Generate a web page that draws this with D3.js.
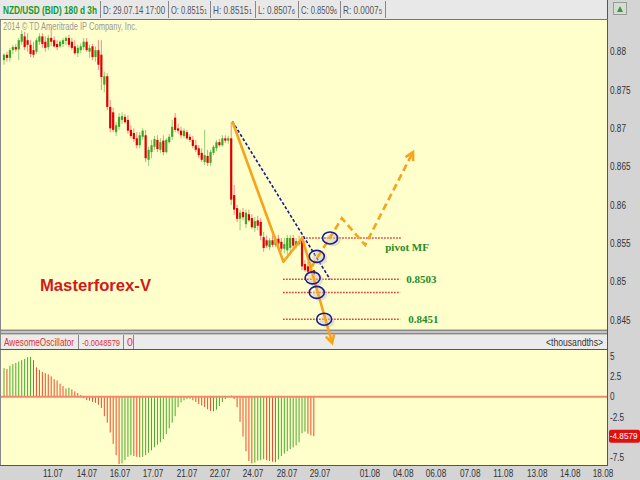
<!DOCTYPE html>
<html><head><meta charset="utf-8">
<script src="https://cdn.jsdelivr.net/npm/d3@7/dist/d3.min.js"></script>
<style>body{margin:0;background:#fff;}svg{display:block;font-family:'Liberation Sans',Arial,sans-serif;}</style>
</head><body>
<svg id="c" width="640" height="480"></svg>
<script>
// ---------------- DATA ----------------
const openP = [
0.8789,0.8796,0.8792,0.8802,0.8806,0.8803,0.8813,0.8820,0.8815,0.8809,
0.8802,0.8800,0.8813,0.8820,0.8813,0.8806,0.8818,0.8815,0.8810,0.8807,
0.8810,0.8814,0.8818,0.8813,0.8807,0.8798,0.8802,0.8806,0.8813,0.8800,
0.8807,0.8793,0.8802,0.8796,0.8757,0.8768,0.8728,0.8721,0.8695,0.8702,
0.8711,0.8715,0.8711,0.8698,0.8694,0.8687,0.8678,0.8689,0.8691,0.8659,
0.8669,0.8676,0.8685,0.8672,0.8684,0.8669,0.8682,0.8689,0.8714,0.8700,
0.8697,0.8690,0.8695,0.8689,0.8685,0.8678,0.8674,0.8668,0.8656,0.8664,
0.8655,0.8668,0.8674,0.8682,0.8678,0.8687,0.8684,0.8687,0.8613,0.8596,
0.8582,0.8591,0.8575,0.8588,0.8583,0.8570,0.8580,0.8578,0.8558,0.8554,
0.8545,0.8554,0.8548,0.8556,0.8552,0.8543,0.8541,0.8544,0.8557,0.8547,
0.8553,0.8554,0.8523,0.8520,0.8513,0.85151];
const highP = [
0.8798,0.8800,0.8805,0.8809,0.8810,0.8818,0.8828,0.8826,0.8824,0.8815,
0.8813,0.8818,0.8824,0.8824,0.8820,0.8822,0.8832,0.8820,0.8815,0.8815,
0.8818,0.8820,0.8822,0.8818,0.8815,0.8809,0.8811,0.8818,0.8818,0.8809,
0.8810,0.8807,0.8815,0.8815,0.8774,0.8772,0.8737,0.8727,0.8708,0.8720,
0.8721,0.8719,0.8717,0.8704,0.8700,0.8695,0.8695,0.8700,0.8698,0.8676,
0.8685,0.8690,0.8691,0.8687,0.8691,0.8687,0.8693,0.8711,0.8720,0.8706,
0.8702,0.8700,0.8698,0.8693,0.8690,0.8685,0.8678,0.8674,0.8698,0.8672,
0.8672,0.8678,0.8685,0.8686,0.8691,0.8691,0.8690,0.8708,0.8626,0.8600,
0.8594,0.8596,0.8594,0.8594,0.8588,0.8584,0.8586,0.8583,0.8565,0.8560,
0.8557,0.8560,0.8560,0.8561,0.8557,0.8557,0.8561,0.8561,0.8561,0.8557,
0.8560,0.8560,0.8528,0.8526,0.8526,0.85151];
const lowP = [
0.8783,0.8787,0.8787,0.8797,0.8800,0.8789,0.8809,0.8802,0.8800,0.8793,
0.8792,0.8797,0.8809,0.8805,0.8800,0.8802,0.8807,0.8805,0.8802,0.8805,
0.8806,0.8809,0.8806,0.8802,0.8796,0.8793,0.8798,0.8802,0.8800,0.8792,
0.8789,0.8787,0.8776,0.8750,0.8747,0.8724,0.8695,0.8695,0.8690,0.8698,
0.8706,0.8706,0.8693,0.8687,0.8682,0.8674,0.8674,0.8685,0.8656,0.8651,
0.8661,0.8672,0.8669,0.8668,0.8665,0.8667,0.8680,0.8685,0.8695,0.8693,
0.8687,0.8687,0.8685,0.8682,0.8674,0.8669,0.8661,0.8656,0.8652,0.8651,
0.8651,0.8665,0.8670,0.8676,0.8676,0.8681,0.8680,0.8600,0.8587,0.8578,
0.8567,0.8580,0.8570,0.8578,0.8569,0.8565,0.8567,0.8554,0.8539,0.8544,
0.8541,0.8545,0.8545,0.8547,0.8539,0.8537,0.8535,0.8539,0.8544,0.8543,
0.8547,0.8515,0.8513,0.8507,0.8510,0.85076];
const closeP = [
0.8796,0.8792,0.8802,0.8806,0.8803,0.8815,0.8823,0.8806,0.8809,0.8797,
0.8796,0.8815,0.8820,0.8810,0.8805,0.8818,0.8813,0.8807,0.8806,0.8813,
0.8815,0.8818,0.8809,0.8805,0.8798,0.8805,0.8807,0.8813,0.8802,0.8805,
0.8793,0.8802,0.8783,0.8767,0.8768,0.8728,0.8700,0.8698,0.8704,0.8715,
0.8716,0.8708,0.8697,0.8690,0.8686,0.8678,0.8691,0.8697,0.8661,0.8672,
0.8678,0.8686,0.8673,0.8682,0.8669,0.8685,0.8689,0.8702,0.8698,0.8697,
0.8691,0.8697,0.8687,0.8685,0.8677,0.8672,0.8665,0.8659,0.8665,0.8655,
0.8669,0.8676,0.8682,0.8678,0.8687,0.8684,0.8687,0.8607,0.8594,0.8582,
0.8590,0.8584,0.8590,0.8580,0.8571,0.8579,0.8573,0.8560,0.8544,0.8547,
0.8554,0.8548,0.8556,0.8550,0.8543,0.8549,0.8557,0.8557,0.8547,0.8553,
0.8549,0.8520,0.8515,0.8513,0.8522,0.85096];
// Awesome Oscillator, thousandths
const aoValues = [
3.5,3.4,3.8,4.0,4.15,4.3,4.5,4.65,4.85,4.9,
4.5,3.6,3.3,3.05,2.9,2.75,2.5,2.15,2.0,1.6,
1.3,1.0,1.1,0.9,0.65,0.45,0.2,-0.2,-0.4,-0.5,
-0.65,-0.75,-1.0,-1.4,-2.4,-3.2,-4.4,-5.8,-7.2,-8.3,
-8.2,-7.8,-7.4,-7.2,-7.3,-7.4,-7.45,-7.4,-7.2,-6.9,
-6.6,-6.2,-5.9,-5.6,-5.2,-4.6,-3.9,-3.2,-2.4,-1.3,
-0.7,-0.45,-0.3,-0.25,-0.45,-0.65,-0.9,-1.1,-1.3,-1.55,
-1.75,-1.8,-1.6,-1.15,-0.65,-0.3,-0.05,0.15,-0.3,-1.3,
-3.1,-4.9,-6.7,-7.9,-8.2,-8.1,-7.85,-7.8,-7.7,-7.8,
-7.9,-8.0,-8.05,-7.7,-7.3,-7.0,-6.7,-6.45,-6.25,-6.0,
-5.6,-4.5,-4.3,-4.55,-4.75,-4.8579];
const aoLast = -4.8579;
const xTickIdx = [16.6,28.1,39.3,50.5,62,73.2,84.4,95.9,107.1,124,135.3,146.4,158,169.2,180.7,191.9,203];
const xTickLabels = ["11.07","14.07","16.07","17.07","21.07","22.07","24.07","28.07","29.07","01.08","04.08","06.08","07.08","11.08","13.08","14.08","18.08"];
const priceTicks = [0.88,0.875,0.87,0.865,0.86,0.855,0.85,0.845];
const priceTickLabels = ["0.88","0.875","0.87","0.865","0.86","0.855","0.85","0.845"];
const aoTicks = [5,2.5,0,-2.5,-7.5];
const aoTickLabels = ["5","2.5","0","-2.5","-7.5"];
const headerMain = ["NZD/USD (BID) 180 d 3h","D: 29.07.14 17:00","O: 0.8515","H: 0.8515","L: 0.8507","C: 0.8509","R: 0.0007"];
const headerSub  = ["","","1","1","6","6","5"];
const oscHeader = ["AwesomeOscillator","-0.0048579","0"];
// annotations (bar index, price)
const trendSolid = [[77.4,0.8709],[94.7,0.8526],[101.1,0.8557],[111.2,0.8420]];
const trendForecast = [[104.3,0.85195],[114.5,0.85827],[122.4,0.85478],[138.6,0.86691]];
const trendNavy = [[77.4,0.8709],[110.5,0.8503]];
const levelPrices = [0.8557,0.8503,0.8486,0.8451];
const levelStart = [101.4,94.6,94.6,94.6];
const levelEnd = [134.6,134.3,134.3,134.3];
const levelLabels = ["pivot MF","0.8503","","0.8451"];
const circlePts = [[110.5,0.8557],[106,0.8533],[104.6,0.8505],[106,0.8486],[108.5,0.8451]];

// ---------------- DRAW ----------------
const svg = d3.select('#c');
const plotR = 607;
const x = d3.scaleLinear().domain([0,203]).range([4,603]);
const y = d3.scaleLinear().domain([0.845,0.88]).range([320,51.7]);
const yA = d3.scaleLinear().domain([-7.5,5]).range([457.7,356]);

function narrow(sel, f, maxW){
  sel.each(function(){
    let w = this.getComputedTextLength()*f;
    if(maxW && w>maxW) w=maxW;
    d3.select(this).attr('textLength',w).attr('lengthAdjust','spacingAndGlyphs');
  });
  return sel;
}

svg.append('rect').attr('width',640).attr('height',480).attr('fill','#d4d4d4');
svg.append('rect').attr('x',0).attr('y',0).attr('width',608).attr('height',19).attr('fill','#e8e8e8');
svg.append('rect').attr('x',1).attr('y',19).attr('width',plotR-1).attr('height',310).attr('fill','#ffffcc');
svg.append('rect').attr('x',0).attr('y',329).attr('width',608).attr('height',6).attr('fill','#c4c4c4');
[330.5,333.5].forEach(v=>svg.append('line').attr('x1',0).attr('x2',608).attr('y1',v).attr('y2',v).attr('stroke','#8a8a8a'));
svg.append('rect').attr('x',0).attr('y',335).attr('width',608).attr('height',14).attr('fill','#ebebeb');
svg.append('rect').attr('x',1).attr('y',349).attr('width',plotR-1).attr('height',116).attr('fill','#ffffcc');
svg.append('line').attr('x1',607.5).attr('x2',607.5).attr('y1',0).attr('y2',465).attr('stroke','#555');
svg.append('line').attr('x1',0.5).attr('x2',0.5).attr('y1',19).attr('y2',465).attr('stroke','#888');
svg.append('line').attr('x1',0).attr('x2',608).attr('y1',465.5).attr('y2',465.5).attr('stroke','#555');
svg.append('line').attr('x1',0).attr('x2',608).attr('y1',19.5).attr('y2',19.5).attr('stroke','#777');
svg.append('line').attr('x1',0).attr('x2',608).attr('y1',349.5).attr('y2',349.5).attr('stroke','#555');

// header cells
const hEdges = [0,100,168,210,255,298,340,385];
const hg = svg.append('g');
headerMain.forEach((t,k)=>{
  const tx = hg.append('text').attr('x',hEdges[k]+3).attr('y',14).attr('font-size',11)
    .attr('fill',k===0?'#179a2a':'#555').attr('font-weight',k===0?'bold':'normal').text(t);
  if(headerSub[k]) tx.append('tspan').attr('font-size',8).text(headerSub[k]);
  tx.attr('textLength',hEdges[k+1]-hEdges[k]-6).attr('lengthAdjust','spacingAndGlyphs');
  hg.append('line').attr('x1',hEdges[k+1]+0.5).attr('x2',hEdges[k+1]+0.5).attr('y1',1).attr('y2',18).attr('stroke','#888');
});
svg.append('rect').attr('x',613.5).attr('y',2.5).attr('width',13).attr('height',12).attr('fill','#cfe0cf').attr('stroke','#9a9a9a');
svg.append('path').attr('d','M617,12 L620,6 L623,12 Z').attr('fill','#4a8a4a');

svg.append('text').attr('x',3).attr('y',30).attr('font-size',10).attr('fill','#9a9a9a')
  .attr('textLength',134).attr('lengthAdjust','spacingAndGlyphs').text('2014 © TD Ameritrade IP Company, Inc.');

// candles
const bars = d3.range(openP.length).map(i=>({i,o:openP[i],h:highP[i],l:lowP[i],c:closeP[i]}));
const cg = svg.append('g');
cg.selectAll('line.w').data(bars).join('line').attr('class','w')
  .attr('x1',d=>x(d.i)).attr('x2',d=>x(d.i)).attr('y1',d=>y(d.h)).attr('y2',d=>y(d.l))
  .attr('stroke',d=>d.c>=d.o?'#8fd07a':'#f28a8a').attr('stroke-width',1);
cg.selectAll('rect.b').data(bars).join('rect').attr('class','b')
  .attr('x',d=>x(d.i)-1.1).attr('width',2.2)
  .attr('y',d=>y(Math.max(d.o,d.c))).attr('height',d=>Math.max(1,Math.abs(y(d.o)-y(d.c))))
  .attr('fill',d=>d.c>=d.o?'#3fa52a':'#e00000');

narrow(svg.selectAll('text.py').data(priceTicks).join('text').attr('class','py')
  .attr('x',610).attr('y',d=>y(d)).attr('dy','0.35em').attr('font-size',10).attr('fill','#333')
  .text((d,k)=>priceTickLabels[k]), 0.82);

svg.append('text').attr('x',40).attr('y',291).attr('font-size',17).attr('font-weight','bold')
  .attr('fill','#d01a1a').attr('textLength',111).attr('lengthAdjust','spacingAndGlyphs').text('Masterforex-V');

// levels
const lg = svg.append('g');
levelPrices.forEach((p,k)=>{
  lg.append('line').attr('x1',x(levelStart[k])).attr('x2',x(levelEnd[k])).attr('y1',y(p)).attr('y2',y(p))
    .attr('stroke','#e0262a').attr('stroke-width',1.5).attr('stroke-dasharray','1.5,1.5');
});
const lblFont = '"Liberation Serif","DejaVu Serif",serif';
lg.append('text').attr('x',x(129.2)).attr('y',y(levelPrices[0])+13).attr('font-family',lblFont).attr('font-weight','bold')
  .attr('font-size',11).attr('fill','#2a8a22').text(levelLabels[0]);
lg.append('text').attr('x',x(136.3)).attr('y',y(levelPrices[1])+4).attr('font-family',lblFont).attr('font-weight','bold')
  .attr('font-size',11).attr('fill','#2a8a22').text(levelLabels[1]);
lg.append('text').attr('x',x(137)).attr('y',y(levelPrices[3])+4).attr('font-family',lblFont).attr('font-weight','bold')
  .attr('font-size',11).attr('fill','#2a8a22').text(levelLabels[3]);

const line = d3.line().x(d=>x(d[0])).y(d=>y(d[1]));
svg.append('path').attr('d',line(trendNavy)).attr('fill','none').attr('stroke','#1c1c8e')
  .attr('stroke-width',1.6).attr('stroke-dasharray','3,2');

circlePts.forEach(p=>{
  svg.append('ellipse').attr('cx',x(p[0])+3).attr('cy',y(p[1])+2).attr('rx',7.5).attr('ry',6.5).attr('fill','#c8c8c0').attr('opacity',0.55);
});

svg.append('path').attr('d',line(trendSolid)).attr('fill','none').attr('stroke','#f8a31c')
  .attr('stroke-width',2.6).attr('stroke-linejoin','round');
svg.append('path').attr('d',line(trendForecast)).attr('fill','none').attr('stroke','#f8a31c')
  .attr('stroke-width',2.6).attr('stroke-dasharray','7,4');

function arrowHead(pts){
  const a = pts[pts.length-2], b = pts[pts.length-1];
  const x1=x(a[0]), y1=y(a[1]), x2=x(b[0]), y2=y(b[1]);
  const ang = Math.atan2(y2-y1,x2-x1), L=9, s=0.5;
  const p1=[x2-L*Math.cos(ang-s), y2-L*Math.sin(ang-s)];
  const p2=[x2-L*Math.cos(ang+s), y2-L*Math.sin(ang+s)];
  svg.append('path').attr('d',`M${p1}L${x2},${y2}L${p2}`).attr('fill','none').attr('stroke','#f8a31c')
    .attr('stroke-width',2.6).attr('stroke-linejoin','miter');
}
arrowHead(trendSolid);
arrowHead(trendForecast);

circlePts.forEach(p=>{
  svg.append('ellipse').attr('cx',x(p[0])).attr('cy',y(p[1])).attr('rx',7.5).attr('ry',6)
    .attr('fill','none').attr('stroke','#1a1a9a').attr('stroke-width',1.6);
});

// osc header
const oEdges=[0,78,123,133];
const oW=[70,38,6];
const oF=[10.5,8.5,10.5];
oscHeader.forEach((t,k)=>{
  const tx=svg.append('text').attr('x',oEdges[k]+4).attr('y',346).attr('font-size',oF[k]).attr('fill','#e03030').text(t);
  narrow(tx,1,oW[k]);
  svg.append('line').attr('x1',oEdges[k+1]+0.5).attr('x2',oEdges[k+1]+0.5).attr('y1',335).attr('y2',349).attr('stroke','#888');
});
narrow(svg.append('text').attr('x',603).attr('y',346).attr('text-anchor','end').attr('font-size',10.5).attr('fill','#333').text('<thousandths>'),0.82);

// oscillator bars
const og = svg.append('g');
og.selectAll('line').data(aoValues).join('line')
  .attr('x1',(d,i)=>x(i)).attr('x2',(d,i)=>x(i)).attr('y1',yA(0)).attr('y2',d=>Math.min(464,yA(d)))
  .attr('stroke',(d,i)=>(i===0||d>aoValues[i-1])?'#4aaa2e':'#ee4a2e').attr('stroke-width',1);
svg.append('line').attr('x1',1).attr('x2',plotR).attr('y1',yA(0)).attr('y2',yA(0)).attr('stroke','#f5876a').attr('stroke-width',2);

narrow(svg.selectAll('text.ay').data(aoTicks).join('text').attr('class','ay')
  .attr('x',610).attr('y',d=>yA(d)).attr('dy','0.35em').attr('font-size',10).attr('fill','#333')
  .text((d,k)=>aoTickLabels[k]),0.82);
svg.append('rect').attr('x',609).attr('y',yA(aoLast)-6.5).attr('width',31).attr('height',13).attr('rx',2).attr('fill','#e01010');
svg.append('text').attr('x',609.8).attr('y',yA(aoLast)).attr('dy','0.35em').attr('font-size',8.2).attr('fill','#fff')
  .text(String(aoLast));

narrow(svg.selectAll('text.xt').data(xTickIdx).join('text').attr('class','xt')
  .attr('x',d=>x(d)).attr('y',477).attr('text-anchor','middle').attr('font-size',10).attr('fill','#333')
  .text((d,k)=>xTickLabels[k]),0.82);
</script>
</body></html>
